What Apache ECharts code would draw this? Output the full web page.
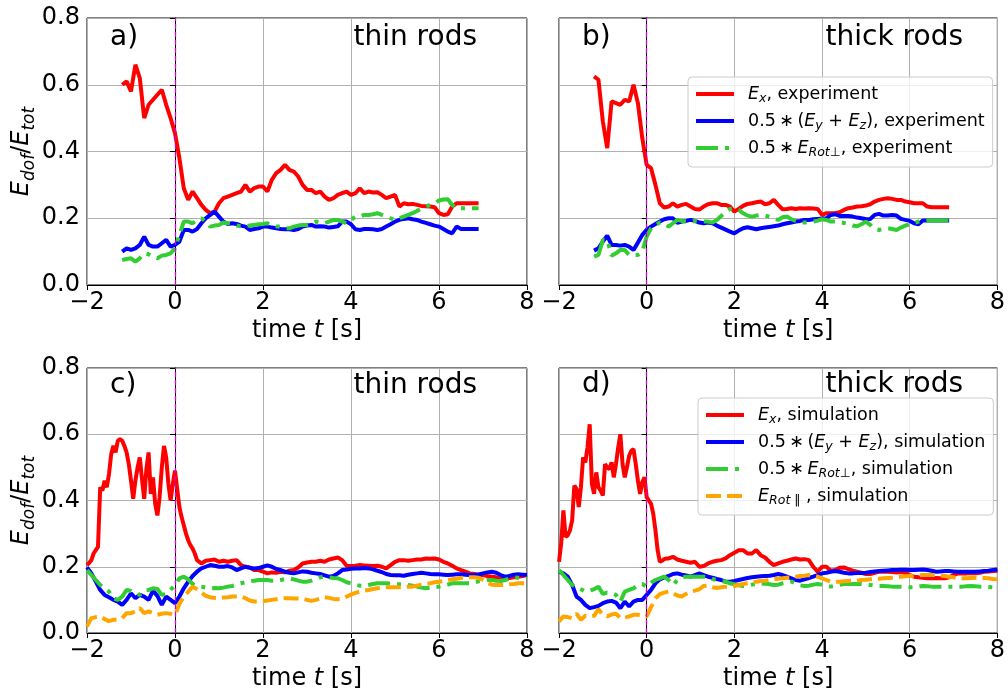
<!DOCTYPE html>
<html>
<head>
<meta charset="utf-8">
<title>E_dof / E_tot</title>
<script src="https://cdn.jsdelivr.net/npm/echarts@6/dist/echarts.min.js"></script>
<style>
  html, body { margin: 0; padding: 0; background: #fff; }
  #main { width: 1008px; height: 695px; }
</style>
</head>
<body>
<div id="main"></div>
<script>
// sampling grids (s)
function seq(a, b, step) {
    var out = [];
    var n = Math.round((b - a) / step);
    for (var i = 0; i <= n; i++) out.push(+(a + i * step).toFixed(2));
    return out;
}
var expT = seq(-1.2, 6.9, 0.1);
var simT = seq(-2, 8, 0.1);
var redSimT = seq(-2, 0.5, 0.05).concat(seq(0.6, 8, 0.1));

// a) thin rods, experiment
var redA = [.60,.61,.58,.66,.62,.50,.54,.555,.57,.585,
    .54,.50,.455,.38,.29,.255,.28,.26,.24,.225,
    .215,.22,.245,.26,.265,.27,.275,.28,.30,.28,
    .29,.295,.295,.28,.315,.335,.345,.36,.345,.34,
    .325,.30,.285,.285,.275,.28,.265,.255,.26,.27,
    .275,.28,.27,.275,.29,.275,.28,.277,.278,.27,
    .26,.265,.27,.235,.245,.242,.243,.24,.237,.236,
    .235,.233,.215,.21,.212,.235,.245,.245,.245,.245,
    .245,.245];
var blueA = [.10,.11,.105,.11,.12,.145,.12,.115,.115,.125,
    .135,.115,.12,.13,.165,.165,.16,.168,.185,.20,
    .21,.22,.205,.19,.183,.185,.183,.178,.175,.165,
    .168,.17,.175,.175,.172,.17,.168,.167,.167,.165,
    .168,.175,.178,.18,.175,.176,.175,.172,.174,.176,
    .19,.19,.182,.167,.165,.168,.168,.167,.165,.168,
    .175,.182,.19,.195,.198,.20,.197,.195,.19,.186,
    .182,.178,.175,.168,.16,.155,.175,.168,.168,.168,
    .168,.168];
var greenA = [.075,.078,.08,.07,.08,.095,.092,.085,.08,.088,
    .09,.095,.11,.15,.19,.19,.185,.195,.20,.19,
    .175,.178,.18,.187,.185,.183,.178,.176,.176,.178,
    .18,.182,.183,.185,.18,.176,.174,.17,.17,.175,
    .178,.18,.18,.185,.19,.188,.185,.19,.195,.195,
    .19,.185,.195,.205,.205,.21,.21,.212,.215,.21,
    .205,.20,.195,.20,.205,.21,.215,.222,.228,.235,
    .24,.245,.253,.256,.257,.24,.23,.23,.23,.23,
    .23,.23];

// b) thick rods, experiment
var redB = [.625,.615,.49,.41,.55,.545,.54,.555,.55,.60,
    .545,.44,.36,.35,.30,.245,.232,.235,.245,.235,
    .24,.243,.235,.228,.226,.235,.242,.245,.245,.24,
    .24,.235,.22,.228,.237,.243,.245,.248,.25,.242,
    .245,.255,.24,.227,.228,.23,.228,.23,.229,.23,
    .229,.228,.21,.215,.215,.215,.218,.225,.23,.232,
    .235,.236,.238,.242,.25,.255,.258,.26,.258,.255,
    .255,.25,.248,.245,.245,.245,.235,.233,.233,.233,
    .233,.233];
var blueB = [.103,.11,.13,.148,.12,.12,.118,.12,.115,.105,
    .127,.15,.165,.175,.183,.19,.197,.20,.20,.186,
    .19,.192,.195,.192,.187,.185,.187,.185,.178,.172,
    .166,.16,.155,.163,.17,.173,.17,.167,.17,.172,
    .174,.176,.178,.182,.185,.187,.19,.192,.195,.195,
    .197,.198,.199,.20,.21,.212,.207,.207,.207,.205,
    .202,.20,.197,.198,.21,.213,.208,.208,.21,.208,
    .198,.195,.192,.185,.182,.193,.193,.193,.193,.193,
    .193,.193];
var greenB = [.085,.09,.135,.135,.088,.095,.105,.105,.09,.09,
    .09,.10,.145,.17,.18,.187,.185,.175,.185,.195,
    .192,.19,.19,.192,.19,.19,.19,.187,.195,.207,
    .218,.228,.23,.225,.215,.208,.205,.208,.21,.208,
    .205,.198,.195,.203,.205,.197,.192,.188,.187,.188,
    .19,.193,.197,.195,.19,.19,.188,.186,.183,.178,
    .176,.182,.19,.18,.168,.165,.168,.17,.168,.165,
    .172,.178,.182,.186,.19,.192,.193,.193,.193,.193,
    .193,.193];

// c) thin rods, simulation
var redC = [.205,.212,.22,.24,.25,.26,.44,.43,.46,.44,
    .48,.54,.565,.545,.58,.585,.58,.565,.545,.51,
    .46,.405,.46,.50,.53,.465,.405,.495,.545,.42,
    .47,.39,.355,.41,.50,.565,.53,.45,.40,.45,
    .49,.435,.38,.35,.325,.30,.28,.265,.255,.24,
    .22,
    .21,.218,.22,.222,.215,.218,.215,.218,.22,.205,
    .20,.198,.19,.19,.185,.18,.183,.182,.185,.183,
    .188,.19,.198,.21,.213,.215,.215,.218,.215,.222,
    .225,.228,.22,.203,.202,.203,.205,.204,.203,.202,
    .203,.20,.195,.205,.215,.22,.22,.218,.22,.222,
    .222,.225,.224,.225,.222,.215,.21,.203,.195,.19,
    .185,.18,.178,.176,.175,.172,.17,.168,.165,.165,
    .166,.168,.17,.172,.175];
var blueC = [.198,.18,.155,.13,.115,.108,.10,.095,.085,.10,
    .12,.105,.115,.11,.10,.128,.112,.085,.11,.10,
    .09,.11,.135,.155,.172,.185,.195,.20,.205,.203,
    .20,.20,.202,.198,.19,.195,.20,.197,.195,.196,
    .20,.204,.20,.193,.19,.185,.182,.18,.183,.186,
    .185,.182,.18,.178,.174,.17,.172,.18,.19,.192,
    .194,.195,.195,.196,.195,.192,.188,.184,.178,.175,
    .174,.174,.173,.176,.178,.18,.182,.18,.178,.177,
    .177,.176,.175,.176,.177,.177,.176,.175,.175,.177,
    .18,.183,.185,.182,.175,.17,.172,.176,.177,.176,
    .175];
var greenC = [.19,.175,.16,.145,.135,.125,.105,.10,.11,.13,
    .127,.118,.115,.128,.13,.135,.133,.115,.118,.13,
    .145,.165,.17,.162,.148,.142,.14,.137,.135,.136,
    .135,.137,.14,.142,.146,.15,.153,.157,.158,.16,
    .16,.16,.158,.158,.16,.163,.165,.162,.158,.155,
    .155,.158,.162,.168,.17,.168,.166,.165,.16,.153,
    .15,.146,.143,.142,.145,.148,.15,.15,.15,.149,
    .148,.147,.146,.145,.143,.14,.137,.135,.137,.14,
    .14,.143,.146,.15,.15,.15,.15,.15,.153,.156,
    .158,.16,.16,.158,.157,.16,.164,.168,.167,.166,
    .165];
var orangeC = [.02,.045,.048,.05,.042,.036,.04,.04,.045,.06,
    .06,.065,.075,.06,.065,.06,.055,.058,.06,.058,
    .055,.088,.11,.125,.14,.132,.122,.112,.108,.106,
    .105,.107,.108,.11,.11,.11,.105,.098,.095,.095,
    .096,.098,.10,.102,.104,.105,.105,.104,.104,.103,
    .10,.097,.10,.104,.108,.106,.103,.102,.103,.11,
    .116,.121,.125,.128,.13,.133,.135,.137,.138,.138,
    .138,.138,.139,.14,.14,.143,.146,.148,.15,.153,
    .155,.157,.16,.162,.164,.166,.167,.168,.168,.167,
    .16,.152,.146,.145,.145,.145,.147,.148,.15,.15,
    .15];

// d) thick rods, simulation
var redD = [.215,.27,.37,.29,.295,.31,.34,.445,.435,.38,
    .44,.53,.515,.56,.63,.45,.42,.485,.44,.43,
    .415,.51,.50,.495,.515,.47,.51,.56,.60,.51,
    .47,.50,.535,.55,.555,.51,.46,.42,.455,.47,
    .41,.40,.39,.36,.31,.25,.215,.218,.223,.225,
    .225,
    .23,.222,.218,.215,.212,.215,.20,.202,.21,.215,
    .218,.22,.225,.235,.242,.25,.25,.24,.24,.25,
    .235,.228,.215,.205,.21,.215,.218,.222,.225,.222,
    .223,.22,.20,.185,.20,.20,.188,.19,.197,.198,
    .193,.188,.185,.182,.178,.178,.182,.185,.186,.185,
    .184,.183,.184,.182,.175,.17,.168,.167,.165,.165,
    .166,.165,.165,.168,.175,.18,.18,.18,.181,.18,
    .182,.185,.186,.187,.188];
var blueD = [.185,.18,.17,.145,.11,.10,.085,.075,.078,.082,
    .09,.095,.097,.092,.075,.095,.08,.095,.10,.10,
    .115,.13,.15,.162,.168,.172,.178,.18,.176,.174,
    .17,.175,.18,.175,.17,.167,.163,.16,.155,.155,
    .157,.16,.163,.166,.168,.17,.171,.172,.173,.175,
    .178,.175,.17,.165,.16,.158,.162,.166,.17,.175,
    .18,.182,.185,.187,.185,.182,.18,.18,.181,.181,
    .182,.184,.186,.187,.188,.189,.19,.19,.191,.191,
    .19,.19,.191,.192,.19,.188,.185,.186,.187,.187,
    .186,.185,.185,.185,.185,.185,.186,.187,.188,.19,
    .192];
var greenD = [.19,.175,.16,.145,.138,.132,.125,.128,.132,.14,
    .118,.122,.12,.115,.095,.125,.13,.135,.145,.148,
    .14,.152,.16,.165,.17,.16,.145,.16,.168,.17,
    .17,.17,.17,.17,.168,.163,.16,.157,.155,.15,
    .147,.144,.142,.143,.146,.148,.15,.149,.147,.145,
    .146,.15,.153,.155,.15,.144,.142,.143,.146,.148,
    .146,.142,.14,.142,.145,.148,.148,.148,.148,.148,
    .147,.145,.143,.142,.142,.141,.14,.14,.14,.139,
    .138,.138,.14,.142,.141,.14,.14,.14,.14,.14,
    .14,.14,.14,.141,.142,.141,.14,.14,.139,.138,
    .138];
var orangeD = [.035,.05,.048,.045,.058,.04,.052,.05,.052,.072,
    .055,.05,.056,.058,.045,.046,.05,.055,.055,.052,
    .05,.078,.105,.117,.122,.125,.12,.113,.11,.118,
    .125,.128,.132,.142,.143,.138,.136,.138,.14,.14,
    .142,.145,.148,.15,.152,.155,.157,.158,.16,.162,
    .164,.165,.167,.168,.17,.172,.173,.175,.173,.17,
    .165,.16,.155,.155,.155,.156,.157,.158,.158,.16,
    .161,.162,.163,.164,.165,.166,.167,.168,.17,.171,
    .172,.173,.174,.175,.175,.175,.175,.174,.172,.17,
    .168,.166,.165,.165,.166,.167,.167,.166,.165,.163,
    .162];

var panelTags = ['a)', 'b)', 'c)', 'd)'];
var panelTitles = ['thin rods', 'thick rods', 'thin rods', 'thick rods'];

var FONT = 'DejaVu Sans';
var names = {
    exX: 'E_x, experiment',
    exYZ: '0.5*(E_y+E_z), experiment',
    exRot: '0.5*E_Rot_perp, experiment',
    smX: 'E_x, simulation',
    smYZ: '0.5*(E_y+E_z), simulation',
    smRot: '0.5*E_Rot_perp, simulation',
    smPar: 'E_Rot_par, simulation'
};
var AST = '\u2009\u2217\u2009';
var legendRich = {};
legendRich[names.exX] = '{i|E}{s|x}{n|, experiment}';
legendRich[names.exYZ] = '{n|0.5' + AST + '(}{i|E}{s|y}{n| + }{i|E}{s|z}{n|), experiment}';
legendRich[names.exRot] = '{n|0.5' + AST + '}{i|E}{s|Rot\u22a5}{n|, experiment}';
legendRich[names.smX] = '{i|E}{s|x}{n|, simulation}';
legendRich[names.smYZ] = '{n|0.5' + AST + '(}{i|E}{s|y}{n| + }{i|E}{s|z}{n|), simulation}';
legendRich[names.smRot] = '{n|0.5' + AST + '}{i|E}{s|Rot\u22a5}{n|, simulation}';
legendRich[names.smPar] = '{i|E}{s|Rot}{su| \u2016}{n| , simulation}';

function zip(ts, vs) {
    return ts.map(function (t, i) { return [t, vs[i]]; });
}

var grids = [
    {left: 87, top: 18, width: 440, height: 267},
    {left: 559, top: 18, width: 439, height: 267},
    {left: 87, top: 368, width: 440, height: 265},
    {left: 559, top: 368, width: 439, height: 265}
];

var axisRich = {
    n: {fontSize: 24, fontFamily: FONT, color: '#000', lineHeight: 32},
    i: {fontSize: 24, fontFamily: FONT, color: '#000', fontStyle: 'italic', lineHeight: 32},
    s: {fontSize: 17, fontFamily: FONT, color: '#000', fontStyle: 'italic', lineHeight: 17, verticalAlign: 'bottom'}
};

var xAxes = [], yAxes = [];
grids.forEach(function (g, k) {
    xAxes.push({
        type: 'value', gridIndex: k, min: -2, max: 8, interval: 2,
        name: '{n|time }{i|t}{n| [s]}', nameLocation: 'middle', nameGap: 30,
        nameTextStyle: {rich: axisRich},
        axisLine: {show: true, onZero: false, lineStyle: {color: '#000', width: 1}},
        axisTick: {show: true, length: 5, lineStyle: {color: '#000', width: 1}},
        axisLabel: {
            fontSize: 24, fontFamily: FONT, color: '#000', margin: 6,
            formatter: function (v) { return String(v).replace('-', '\u2212'); }
        },
        splitLine: {show: true, lineStyle: {color: '#b0b0b0', width: 1}}
    });
    var left = (k % 2 === 0);
    yAxes.push({
        type: 'value', gridIndex: k, min: 0, max: 0.8, interval: 0.2,
        name: left ? '{i|E}{s|dof}{n|/}{i|E}{s|tot}' : '',
        nameLocation: 'middle', nameGap: 46, nameRotate: 90,
        nameTextStyle: {rich: axisRich},
        axisLine: {show: true, lineStyle: {color: '#000', width: 1}},
        axisTick: {show: true, length: 5, lineStyle: {color: '#000', width: 1}},
        axisLabel: {
            show: left, fontSize: 24, fontFamily: FONT, color: '#000', margin: 7,
            formatter: function (v) { return v.toFixed(1); }
        },
        splitLine: {show: true, lineStyle: {color: '#b0b0b0', width: 1}}
    });
});

var LW = 4;
var dashDot = [22, 7, 4, 7];
var dashed = [15, 6];
var vline = {
    silent: true, symbol: ['none', 'none'], label: {show: false},
    lineStyle: {color: '#d000d0', type: [5, 3], width: 1.3},
    data: [{xAxis: 0}]
};

function line(name, k, data, color, type) {
    return {
        name: name, type: 'line', xAxisIndex: k, yAxisIndex: k,
        data: data, symbol: 'none', showSymbol: false,
        lineStyle: {color: color, width: LW, type: type || 'solid'},
        itemStyle: {color: color},
        animation: false
    };
}

var series = [
    line(names.exX, 0, zip(expT, redA), '#ff0000'),
    line(names.exYZ, 0, zip(expT, blueA), '#0000ff'),
    line(names.exRot, 0, zip(expT, greenA), '#32cd32', dashDot),
    line(names.exX, 1, zip(expT, redB), '#ff0000'),
    line(names.exYZ, 1, zip(expT, blueB), '#0000ff'),
    line(names.exRot, 1, zip(expT, greenB), '#32cd32', dashDot),
    line(names.smX, 2, zip(redSimT, redC), '#ff0000'),
    line(names.smYZ, 2, zip(simT, blueC), '#0000ff'),
    line(names.smRot, 2, zip(simT, greenC), '#32cd32', dashDot),
    line(names.smPar, 2, zip(simT, orangeC), '#ffa500', dashed),
    line(names.smX, 3, zip(redSimT, redD), '#ff0000'),
    line(names.smYZ, 3, zip(simT, blueD), '#0000ff'),
    line(names.smRot, 3, zip(simT, greenD), '#32cd32', dashDot),
    line(names.smPar, 3, zip(simT, orangeD), '#ffa500', dashed)
];
// magenta dashed line at t = 0 in each panel
[2, 5, 9, 13].forEach(function (i) { series[i].markLine = vline; });

var legendText = {
    rich: {
        n: {fontSize: 17.5, fontFamily: FONT, color: '#000', lineHeight: 22},
        i: {fontSize: 17.5, fontFamily: FONT, color: '#000', fontStyle: 'italic', lineHeight: 22},
        s: {fontSize: 12.5, fontFamily: FONT, color: '#000', fontStyle: 'italic', lineHeight: 13, verticalAlign: 'bottom'},
        su: {fontSize: 12.5, fontFamily: FONT, color: '#000', lineHeight: 13, verticalAlign: 'bottom'}
    },
    padding: [0, 0, 0, 9]
};
function legendAt(left, top, list) {
    return {
        left: left, top: top, orient: 'vertical', data: list,
        itemWidth: 38, itemHeight: 14, itemGap: 7,
        padding: [8, 8, 8, 6],
        backgroundColor: 'rgba(255,255,255,0.8)',
        borderColor: '#cccccc', borderWidth: 1, borderRadius: 4,
        itemStyle: {opacity: 0},
        lineStyle: {width: 4},
        textStyle: legendText,
        formatter: function (n) { return legendRich[n]; }
    };
}

var tagPos = [[110, 41], [582, 41], [110, 389], [582, 388]];
var titleRight = [477, 963, 477, 963];
var graphics = [];
tagPos.forEach(function (p, k) {
    graphics.push({type: 'text', left: p[0], top: p[1] - 17, z: 100,
        style: {text: panelTags[k], font: '28px "DejaVu Sans"', fill: '#000'}});
    graphics.push({type: 'text', right: 1008 - titleRight[k], top: p[1] - 17, z: 100,
        style: {text: panelTitles[k], font: '28px "DejaVu Sans"', fill: '#000'}});
});

var chart = echarts.init(document.getElementById('main'));
chart.setOption({
    backgroundColor: '#fff',
    animation: false,
    grid: grids.map(function (g) {
        return Object.assign({show: true, borderColor: '#000', borderWidth: 1, backgroundColor: 'transparent'}, g);
    }),
    xAxis: xAxes,
    yAxis: yAxes,
    legend: [
        legendAt(688, 77, [names.exX, names.exYZ, names.exRot]),
        legendAt(698, 398, [names.smX, names.smYZ, names.smRot, names.smPar])
    ],
    graphic: graphics,
    series: series
});
</script>
</body>
</html>
